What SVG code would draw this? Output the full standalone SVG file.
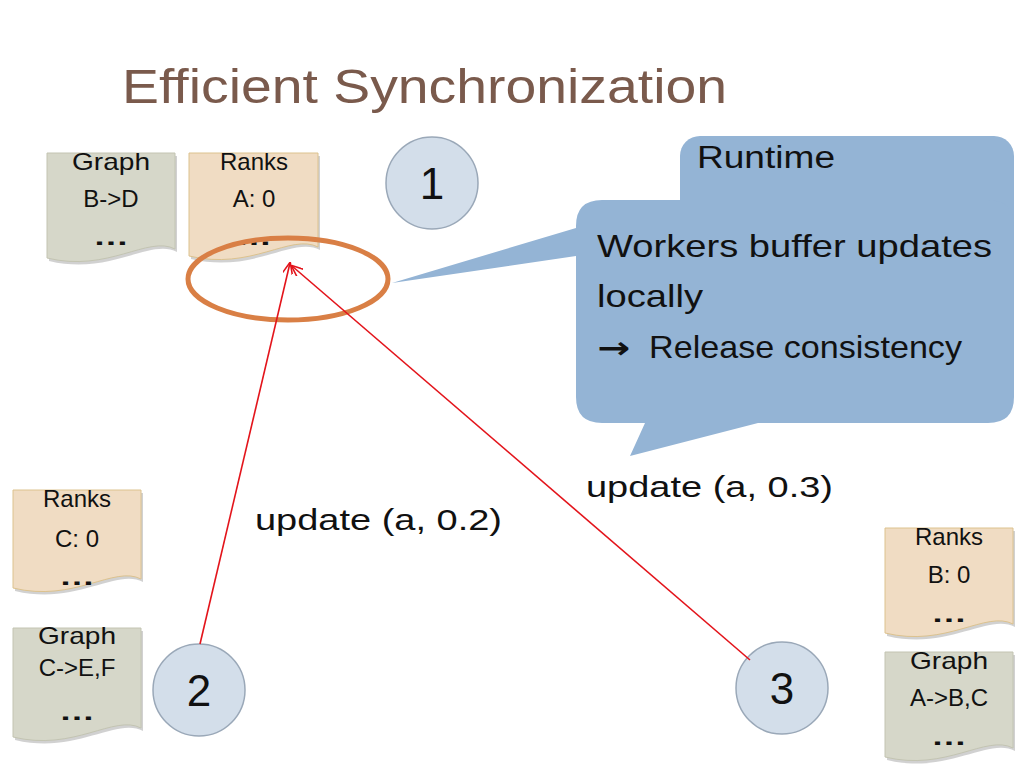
<svg xmlns="http://www.w3.org/2000/svg" width="1023" height="767" viewBox="0 0 1023 767">
<defs>
<style>
.t{font-family:"Liberation Sans","Noto Sans",sans-serif;fill:#111}
.doc{font-size:24px;text-anchor:middle}
.dots{font-size:24px;text-anchor:middle;font-weight:bold}
.gr{fill:#d6d7c9;stroke:#c3c4b2;stroke-width:1}
.rk{fill:#f0dcc3;stroke:#dcc28e;stroke-width:1}
.sh{fill:#000;opacity:0.18}
.num{fill:#d3deea;stroke:#9aa8b8;stroke-width:1.5}
.numt{font-size:44px;text-anchor:middle}
.bub{fill:#94b4d5}
.lbl{font-size:30px}
.red{stroke:#e3141b;stroke-width:1.6;fill:none;marker-end:url(#ah)}
</style>
<marker id="ah" viewBox="0 0 12 10" refX="11" refY="5" markerWidth="12" markerHeight="10" markerUnits="userSpaceOnUse" orient="auto">
<path d="M0,0 L12,5 L0,10" fill="none" stroke="#e3141b" stroke-width="1.6"/>
</marker>
</defs>
<rect width="1023" height="767" fill="#fff"/>
<text class="t" x="122" y="103" font-size="48" style="fill:#7a5a4c" textLength="605" lengthAdjust="spacingAndGlyphs">Efficient Synchronization</text>

<g id="graph-top">
<path class="sh" d="M49,156 H177 V252 C150,238 110,276 49,261 Z"/>
<path class="gr" d="M47,153 H175 V249 C148,235 108,273 47,258 Z"/>
<text class="t doc" x="111" y="170" textLength="78" lengthAdjust="spacingAndGlyphs">Graph</text>
<text class="t doc" x="111" y="207">B-&gt;D</text>
<text class="t dots" x="111" y="245" textLength="36" lengthAdjust="spacingAndGlyphs">…</text>
</g>
<g id="ranks-top">
<path class="sh" d="M191,156 H320 V250 C293,236 253,274 191,259 Z"/>
<path class="rk" d="M189,153 H318 V247 C291,233 251,271 189,256 Z"/>
<text class="t doc" x="254" y="170">Ranks</text>
<text class="t doc" x="254" y="207">A: 0</text>
<text class="t dots" x="254" y="245" textLength="36" lengthAdjust="spacingAndGlyphs">…</text>
</g>
<g id="n1">
<circle class="num" cx="432" cy="183" r="46"/>
<text class="t numt" x="432" y="199">1</text>
</g>

<g id="runtime">
<rect class="bub" x="680" y="136" width="334" height="140" rx="20"/>
<text class="t" x="697" y="168" font-size="31" textLength="138" lengthAdjust="spacingAndGlyphs">Runtime</text>
<path class="bub" d="M602,200 H988 Q1014,200 1014,226 V397 Q1014,423 988,423 H758 L630,456 L645,423 H602 Q576,423 576,397 V256 L392,283 L576,228 V226 Q576,200 602,200 Z"/>
<text class="t" x="597" y="257" font-size="32" textLength="395" lengthAdjust="spacingAndGlyphs">Workers buffer updates</text>
<text class="t" x="597" y="307" font-size="32" textLength="106" lengthAdjust="spacingAndGlyphs">locally</text>
<text class="t" x="597" y="358" font-size="32"><tspan font-family="DejaVu Sans" font-weight="bold" font-size="30" textLength="33" lengthAdjust="spacingAndGlyphs">→</tspan><tspan x="649" textLength="313" lengthAdjust="spacingAndGlyphs">Release consistency</tspan></text>
</g>

<g id="highlight">
<ellipse cx="288" cy="279" rx="100" ry="41" fill="none" stroke="#d97f45" stroke-width="5"/>
</g>

<g id="ranks-left">
<path class="sh" d="M15,493 H143 V582 C116,568 76,606 15,591 Z"/>
<path class="rk" d="M13,490 H141 V579 C114,565 74,603 13,588 Z"/>
<text class="t doc" x="77" y="507">Ranks</text>
<text class="t doc" x="77" y="547">C: 0</text>
<text class="t dots" x="77" y="585" textLength="36" lengthAdjust="spacingAndGlyphs">…</text>
</g>
<g id="graph-left">
<path class="sh" d="M15,631 H143 V731 C116,717 76,755 15,740 Z"/>
<path class="gr" d="M13,628 H141 V728 C114,714 74,752 13,737 Z"/>
<text class="t doc" x="77" y="644" textLength="78" lengthAdjust="spacingAndGlyphs">Graph</text>
<text class="t doc" x="77" y="676">C-&gt;E,F</text>
<text class="t dots" x="77" y="720" textLength="36" lengthAdjust="spacingAndGlyphs">…</text>
</g>
<g id="n2">
<circle class="num" cx="199" cy="690" r="46"/>
<text class="t numt" x="199" y="706">2</text>
</g>
<g id="n3">
<circle class="num" cx="782" cy="688" r="46"/>
<text class="t numt" x="782" y="704">3</text>
</g>
<g id="ranks-right">
<path class="sh" d="M887,531 H1015 V627 C988,613 948,651 887,636 Z"/>
<path class="rk" d="M885,528 H1013 V624 C986,610 946,648 885,633 Z"/>
<text class="t doc" x="949" y="545">Ranks</text>
<text class="t doc" x="949" y="583">B: 0</text>
<text class="t dots" x="949" y="622" textLength="36" lengthAdjust="spacingAndGlyphs">…</text>
</g>
<g id="graph-right">
<path class="sh" d="M887,655 H1015 V751 C988,737 948,775 887,760 Z"/>
<path class="gr" d="M885,652 H1013 V748 C986,734 946,772 885,757 Z"/>
<text class="t doc" x="949" y="669" textLength="78" lengthAdjust="spacingAndGlyphs">Graph</text>
<text class="t doc" x="949" y="706">A-&gt;B,C</text>
<text class="t dots" x="949" y="745" textLength="36" lengthAdjust="spacingAndGlyphs">…</text>
</g>

<g id="connectors">
<line class="red" x1="200" y1="644" x2="290" y2="263"/>
<line class="red" x1="750" y1="660" x2="292" y2="266"/>
</g>
<g id="labels">
<text class="t lbl" x="255" y="530" textLength="247" lengthAdjust="spacingAndGlyphs">update (a, 0.2)</text>
<text class="t lbl" x="586" y="497" textLength="247" lengthAdjust="spacingAndGlyphs">update (a, 0.3)</text>
</g>
</svg>
